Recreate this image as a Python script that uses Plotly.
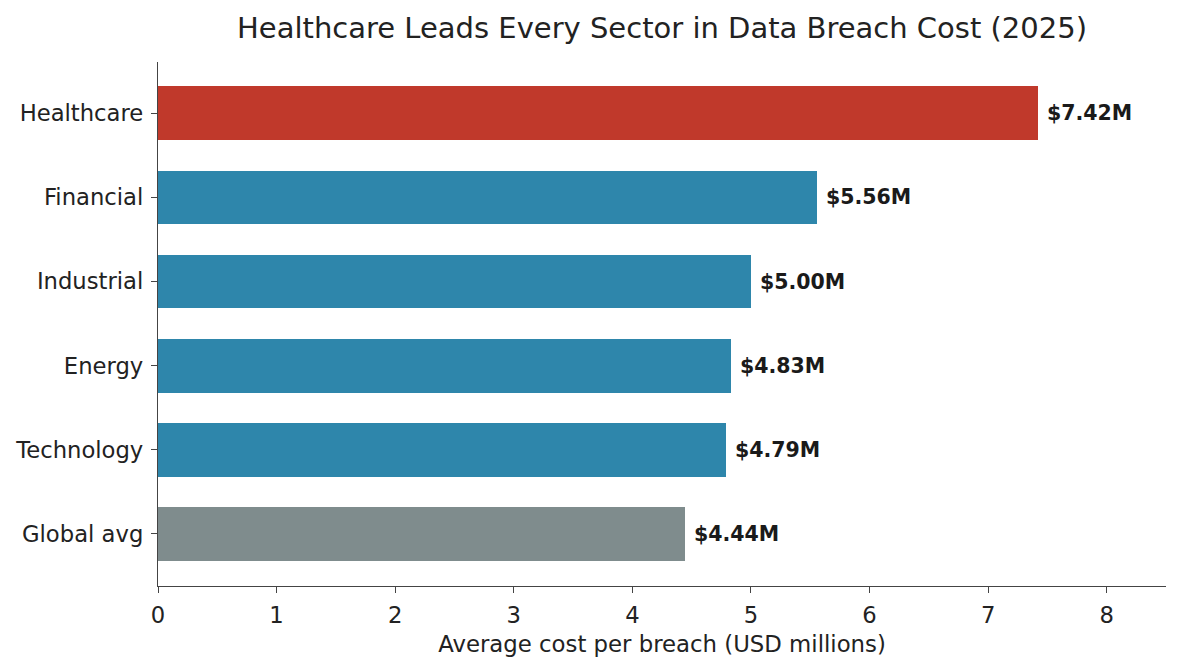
import plotly.graph_objects as go

sectors = ["Global avg", "Technology", "Energy", "Industrial", "Financial", "Healthcare"]
costs = [4.44, 4.79, 4.83, 5.00, 5.56, 7.42]
colors = ["#7f8c8d", "#2e86ab", "#2e86ab", "#2e86ab", "#2e86ab", "#c0392b"]
labels = [f"${v:.2f}M" for v in costs]
x_ticks = [0, 1, 2, 3, 4, 5, 6, 7, 8]

FONT = "DejaVu Sans"
TXT = "#222222"
AX = "#444444"

W, H = 1172, 662

fig = go.Figure(go.Bar(
    x=costs, y=sectors, orientation="h",
    marker=dict(color=colors, line=dict(width=0)),
    width=0.64, hoverinfo="skip",
))

for s, v, lab in zip(sectors, costs, labels):
    fig.add_annotation(x=v, y=s, text=f"<b>{lab}</b>", showarrow=False,
                       xanchor="left", xshift=7, yanchor="middle",
                       font=dict(family=FONT, size=20.5, color="#1a1a1a"))

fig.update_layout(
    width=W, height=H,
    margin=dict(l=150, r=14, t=54, b=84),
    paper_bgcolor="white", plot_bgcolor="white",
    font=dict(family=FONT, color=TXT),
    title=dict(text="Healthcare Leads Every Sector in Data Breach Cost (2025)",
               x=654 / W, xanchor="center", y=1 - 20 / H, yanchor="middle",
               font=dict(family=FONT, size=29, color=TXT)),
    showlegend=False,
    bargap=0,
)
fig.update_xaxes(
    range=[0, 8.5], tickvals=x_ticks, ticktext=[str(t) for t in x_ticks],
    automargin=False,
    showgrid=False, zeroline=False, showline=True, linecolor=AX, linewidth=1.3,
    ticks="outside", ticklen=6, tickcolor=AX, tickwidth=1.3,
    tickfont=dict(family=FONT, size=22.7, color=TXT), ticklabelstandoff=3,
    title=dict(text="Average cost per breach (USD millions)", standoff=8,
               font=dict(family=FONT, size=22.8, color=TXT)),
)
fig.update_yaxes(
    range=[-0.62, 5.61], automargin=False, showgrid=False, zeroline=False,
    showline=True, linecolor=AX, linewidth=1.3,
    ticks="outside", ticklen=6, tickcolor=AX, tickwidth=1.3,
    tickfont=dict(family=FONT, size=22.7, color=TXT), ticklabelstandoff=3,
)

fig.write_html("out.html")
